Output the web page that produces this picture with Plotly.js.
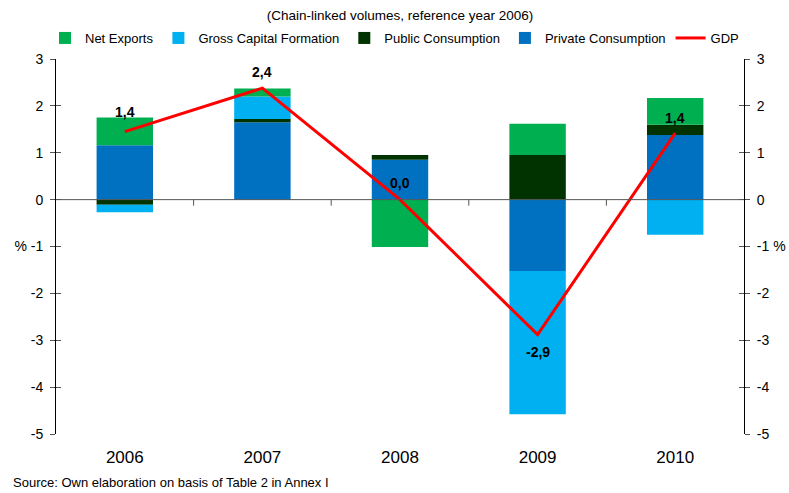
<!DOCTYPE html>
<html>
<head>
<meta charset="utf-8">
<script src="https://cdn.plot.ly/plotly-3.0.1.min.js"></script>
<style>html,body{margin:0;padding:0;background:#fff}#chart{width:789px;height:493px}</style>
</head>
<body>
<div id="chart"></div>
<script>
const years = ['2006', '2007', '2008', '2009', '2010'];
const privateConsumption = [1.16, 1.65, 0.85, -1.52, 1.38];
const publicConsumption = [-0.11, 0.07, 0.10, 0.95, 0.22];
const grossCapitalFormation = [-0.16, 0.48, 0.0, -3.06, -0.75];
const netExports = [0.59, 0.17, -1.01, 0.67, 0.57];
const gdp = [1.45, 2.38, 0.0, -2.88, 1.42];
const gdpLabels = ['1,4', '2,4', '0,0', '-2,9', '1,4'];
const yTickVals = [-5, -4, -3, -2, -1, 0, 1, 2, 3];
const yTickLeft = ['-5', '-4', '-3', '-2', '% -1', '0', '1', '2', '3'];
const yTickRight = ['-5', '-4', '-3', '-2', '-1 %', '0', '1', '2', '3'];

const FONT = 'Liberation Sans, Arial, sans-serif';
const W = 0.41;

const traces = [
  {type: 'bar', name: 'Private Consumption', x: years, y: privateConsumption, marker: {color: '#0070C0'}, width: W, legendrank: 4},
  {type: 'bar', name: 'Public Consumption', x: years, y: publicConsumption, marker: {color: '#003300'}, width: W, legendrank: 3},
  {type: 'bar', name: 'Gross Capital Formation', x: years, y: grossCapitalFormation, marker: {color: '#00B0F0'}, width: W, legendrank: 2},
  {type: 'bar', name: 'Net Exports', x: years, y: netExports, marker: {color: '#00B050'}, width: W, legendrank: 1},
  {type: 'scatter', mode: 'lines', name: 'GDP', x: years, y: gdp, line: {color: '#FF0000', width: 3}, legendrank: 5},
  {type: 'scatter', mode: 'lines', x: years, y: gdp, yaxis: 'y2', showlegend: false, hoverinfo: 'skip', opacity: 0},
  {type: 'scatter', mode: 'lines', x: years, y: gdp, yaxis: 'y3', showlegend: false, hoverinfo: 'skip', opacity: 0},
  {type: 'scatter', mode: 'lines', x: years, y: gdp, yaxis: 'y4', showlegend: false, hoverinfo: 'skip', opacity: 0}
];

const labelShift = [20, 16, 17, -17, 15];
const annotations = years.map((yr, i) => ({
  x: i, y: gdp[i], xref: 'x', yref: 'y', text: '<b>' + gdpLabels[i] + '</b>',
  showarrow: false, yshift: labelShift[i], font: {family: FONT, size: 14, color: '#000'}
}));
annotations.push({
  xref: 'paper', yref: 'paper', x: -0.066, y: -0.128, xanchor: 'left', yanchor: 'middle',
  text: 'Source: Own elaboration on basis of Table 2 in Annex I', showarrow: false,
  font: {family: FONT, size: 13, color: '#000'}
});

const shapes = [0.5, 1.5, 2.5, 3.5].map(v => ({
  type: 'line', xref: 'x', yref: 'y', x0: v, x1: v, y0: 0, y1: -6,
  ysizemode: 'pixel', yanchor: 0, line: {color: '#555', width: 1}
}));
shapes.push({type: 'line', xref: 'paper', yref: 'y', x0: 0, x1: 1, y0: 0, y1: 0, line: {color: '#555', width: 1}});

function yAx(extra) {
  return Object.assign({
    range: [-5, 3], tickmode: 'array', tickvals: yTickVals, showgrid: false, zeroline: false,
    showline: true, linecolor: '#000', linewidth: 1, ticklen: 5, tickcolor: '#555',
    tickfont: {family: FONT, size: 14, color: '#000'}, ticklabelstandoff: 4, fixedrange: true
  }, extra);
}

const layout = {
  width: 789, height: 493,
  margin: {l: 56, r: 45, t: 59, b: 59, pad: 0, autoexpand: false},
  paper_bgcolor: '#fff', plot_bgcolor: '#fff',
  barmode: 'relative',
  title: {text: '(Chain-linked volumes, reference year 2006)', xref: 'paper', x: 0.5, y: 0.97, yanchor: 'middle',
    font: {family: FONT, size: 13.5, color: '#000'}},
  font: {family: FONT, color: '#000'},
  showlegend: true,
  legend: {orientation: 'h', xref: 'paper', x: -0.016, xanchor: 'left', y: 1.056, yanchor: 'middle',
    font: {family: FONT, size: 13, color: '#000'}, bgcolor: 'rgba(0,0,0,0)', itemwidth: 30},
  xaxis: {type: 'category', range: [-0.5, 4.5], showgrid: false, zeroline: false, showline: false, ticks: '',
    tickfont: {family: FONT, size: 17, color: '#000'}, ticklabelstandoff: 11, fixedrange: true},
  yaxis: yAx({side: 'left', ticks: 'outside', ticktext: yTickLeft}),
  yaxis2: yAx({side: 'right', overlaying: 'y', ticks: 'outside', ticktext: yTickRight}),
  yaxis3: yAx({side: 'left', overlaying: 'y', ticks: 'inside', showticklabels: false}),
  yaxis4: yAx({side: 'right', overlaying: 'y', ticks: 'inside', showticklabels: false}),
  annotations: annotations,
  shapes: shapes
};

Plotly.newPlot('chart', traces, layout, {displayModeBar: false, staticPlot: true});
</script>
</body>
</html>
